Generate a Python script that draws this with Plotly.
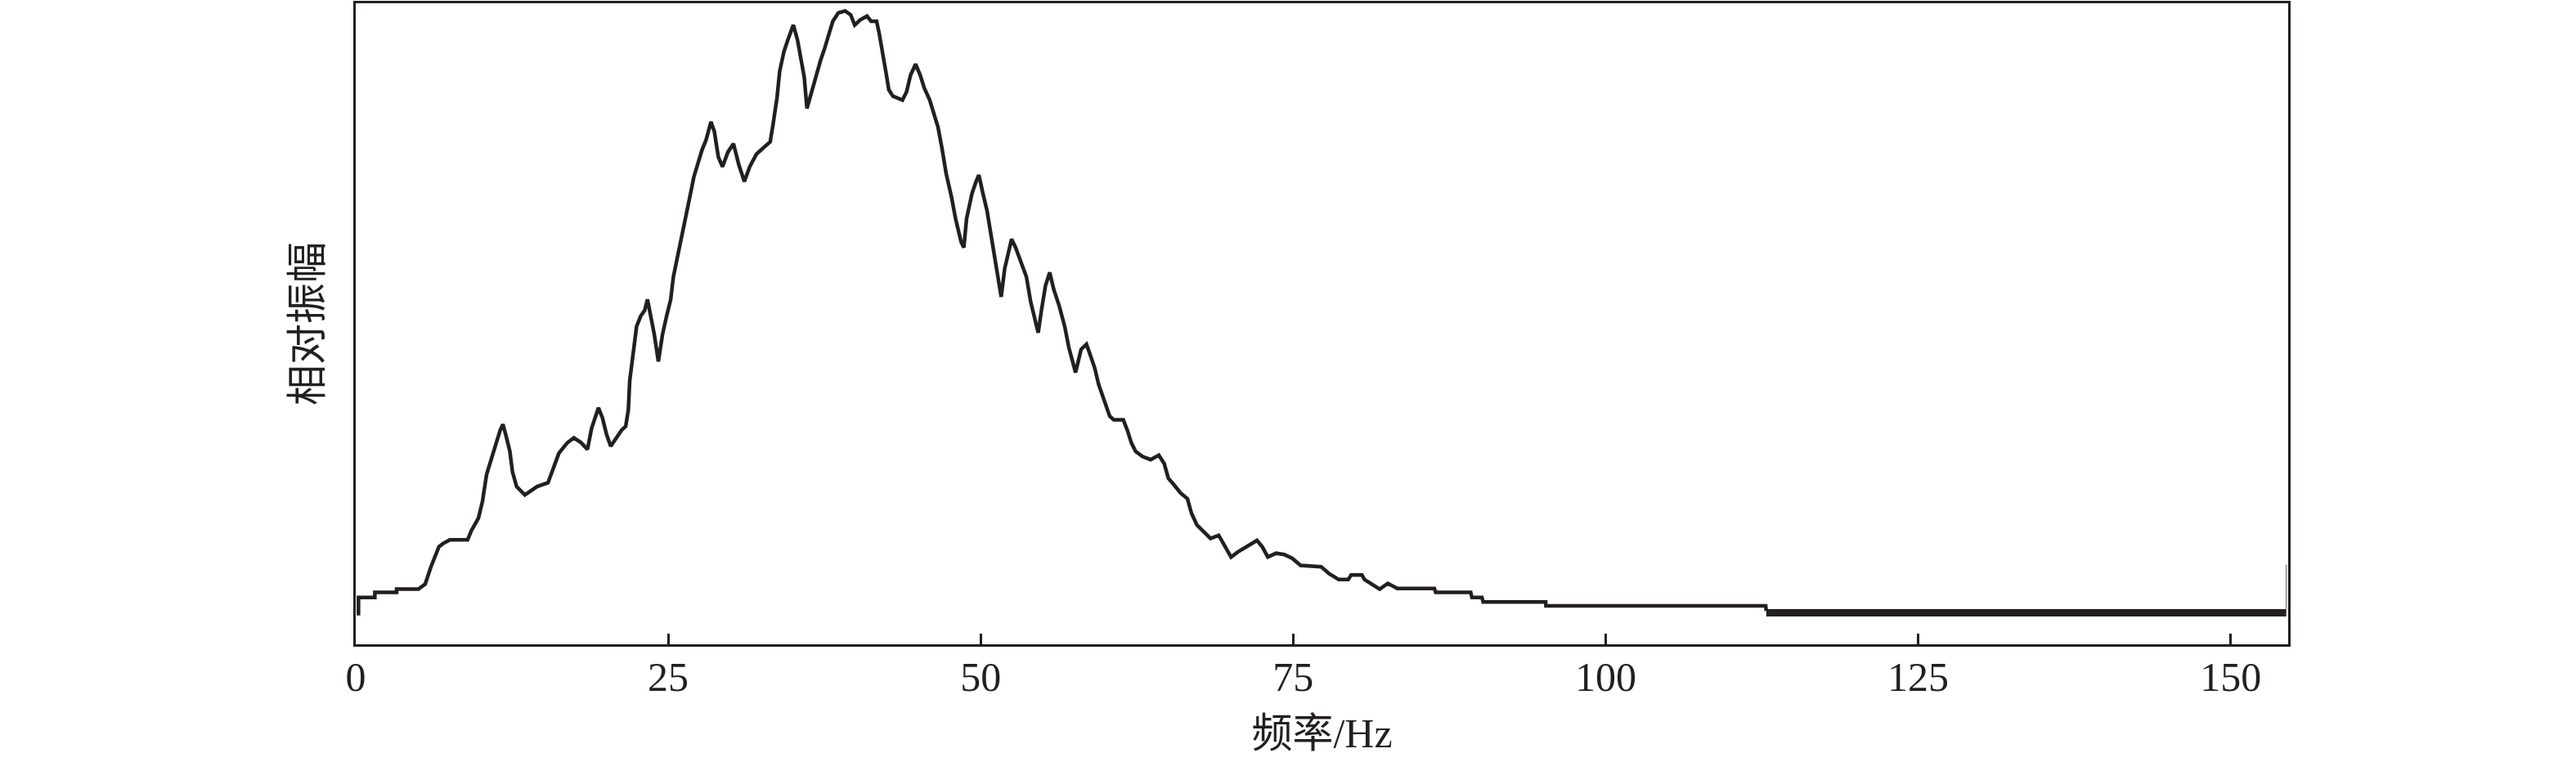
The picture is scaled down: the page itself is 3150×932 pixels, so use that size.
import plotly.graph_objects as go

# Frequency (Hz) and relative amplitude (0-100 of plot height)
freq_hz = [
    0.22, 0.22, 1.53, 1.53, 3.27, 3.27, 5.02, 5.56, 6.0, 6.65,
    6.98, 7.53, 8.95, 9.27, 9.82, 10.14, 10.47, 10.91, 11.24, 11.56,
    11.78, 12.0, 12.33, 12.54, 12.87, 13.53, 14.07, 14.51, 15.38, 15.82,
    16.25, 16.91, 17.45, 18.0, 18.54, 18.87, 19.42, 19.74, 20.07, 20.4,
    20.83, 21.27, 21.6, 21.81, 21.92, 22.25, 22.47, 22.8, 23.12, 23.34,
    23.56, 23.89, 24.21, 24.54, 24.87, 25.2, 25.41, 25.74, 26.07, 26.4,
    26.72, 27.05, 27.38, 27.7, 28.03, 28.42, 28.69, 29.01, 29.34, 29.78,
    30.22, 30.65, 31.09, 31.52, 32.07, 32.61, 33.16, 33.38, 33.7, 33.92,
    34.25, 34.57, 35.01, 35.34, 35.56, 35.88, 36.1, 36.43, 36.76, 37.19,
    37.52, 37.85, 38.17, 38.61, 39.16, 39.6, 39.92, 40.36, 40.9, 41.23,
    41.67, 41.88, 42.21, 42.43, 42.65, 42.98, 43.74, 44.07, 44.39, 44.79,
    45.16, 45.48, 45.92, 46.25, 46.58, 46.9, 47.23, 47.67, 47.99, 48.43,
    48.65, 48.87, 49.3, 49.63, 49.85, 50.18, 50.5, 50.83, 51.16, 51.37,
    51.64, 51.92, 52.25, 52.47, 52.79, 53.23, 53.66, 53.99, 54.32, 54.6,
    54.86, 55.19, 55.52, 55.84, 56.28, 56.72, 57.05, 57.38, 57.59, 58.03,
    58.46, 58.79, 59.12, 59.44, 59.88, 60.32, 60.65, 61.41, 61.73, 62.06,
    62.39, 62.94, 63.59, 64.25, 64.68, 65.01, 65.45, 65.99, 66.54, 66.87,
    67.3, 67.85, 68.39, 69.04, 69.48, 70.03, 70.57, 71.22, 72.1, 72.53,
    72.97, 73.63, 74.28, 74.93, 75.59, 77.23, 77.88, 78.64, 79.41, 79.63,
    80.5, 80.71, 81.26, 81.92, 82.57, 83.33, 86.3, 86.4, 89.2, 89.3,
    90.1, 90.2, 95.2, 95.22, 112.8, 112.85,
]
rel_amp = [
    4.5, 7.3, 7.3, 8.1, 8.1, 8.6, 8.6, 9.4, 12.0, 15.2,
    15.7, 16.3, 16.3, 17.8, 19.7, 22.3, 26.5, 29.1, 31.4, 33.4,
    34.3, 32.7, 30.1, 26.9, 24.6, 23.3, 24.0, 24.6, 25.2, 27.5,
    29.8, 31.4, 32.2, 31.5, 30.4, 33.7, 36.9, 35.3, 32.7, 30.9,
    32.1, 33.4, 34.0, 36.6, 41.1, 46.3, 49.6, 51.2, 52.1, 53.8,
    51.5, 48.3, 44.1, 48.3, 51.2, 53.8, 57.3, 60.6, 63.5, 67.1,
    69.7, 72.9, 75.2, 77.1, 78.7, 81.5, 80.0, 76.0, 74.5, 76.8,
    78.1, 74.8, 72.2, 74.5, 76.5, 77.4, 78.4, 81.0, 85.2, 89.4,
    92.4, 94.3, 96.6, 94.3, 91.7, 88.5, 83.6, 85.9, 88.5, 91.1,
    93.0, 95.3, 97.2, 98.5, 98.8, 98.2, 96.6, 97.4, 98.0, 97.2,
    97.2, 95.3, 92.0, 89.1, 86.5, 85.5, 84.9, 86.2, 88.8, 90.5,
    88.8, 86.8, 84.9, 82.6, 80.7, 77.4, 73.5, 69.7, 66.4, 62.8,
    61.9, 66.4, 70.3, 72.2, 73.2, 70.3, 67.7, 63.8, 59.9, 56.7,
    54.2, 58.6, 61.6, 63.2, 61.9, 59.6, 57.3, 53.5, 50.9, 48.6,
    52.1, 56.0, 58.0, 55.4, 52.8, 49.6, 46.3, 43.7, 42.4, 46.0,
    46.8, 45.0, 43.1, 40.5, 37.9, 35.6, 35.0, 35.0, 33.4, 31.4,
    30.1, 29.3, 28.8, 29.5, 28.2, 25.9, 24.9, 23.6, 22.7, 20.4,
    18.6, 17.5, 16.5, 17.0, 15.5, 13.6, 14.4, 15.1, 16.2, 15.2,
    13.6, 14.2, 14.0, 13.4, 12.3, 12.1, 11.0, 10.1, 10.1, 10.8,
    10.8, 10.1, 9.4, 8.6, 9.5, 8.7, 8.7, 8.1, 8.1, 7.3,
    7.3, 6.6, 6.6, 6.0, 6.0, 5.2,
]
# dense high-frequency tail (drawn as a thick band) and the final point
tail_freq = [112.85, 154.45]
tail_amp = [4.9, 4.9]
end_freq = [154.45, 154.45]
end_amp = [5.5, 12.4]

x_ticks = [0, 25, 50, 75, 100, 125, 150]

INK = "#231f20"
FONT = "Liberation Serif, Times New Roman, Noto Sans CJK SC, serif"

fig = go.Figure()
fig.add_trace(go.Scatter(x=freq_hz, y=rel_amp, mode="lines",
                         line=dict(color=INK, width=4.5), showlegend=False))
fig.add_trace(go.Scatter(x=tail_freq, y=tail_amp, mode="lines",
                         line=dict(color=INK, width=9), showlegend=False))
fig.add_trace(go.Scatter(x=end_freq, y=end_amp, mode="lines",
                         line=dict(color="#9a9a9a", width=2), showlegend=False))

fig.update_layout(
    width=3150, height=932,
    margin=dict(l=435, r=352, t=1, b=144),
    paper_bgcolor="white", plot_bgcolor="white",
    font=dict(family=FONT, size=50, color=INK),
    showlegend=False,
)
fig.update_xaxes(
    range=[0, 154.6], tickvals=x_ticks, ticktext=[str(v) for v in x_ticks],
    ticks="inside", ticklen=13, tickwidth=2.5, tickcolor=INK,
    ticklabelstandoff=-6,
    showline=True, linewidth=3, linecolor=INK, mirror=True,
    showgrid=False, zeroline=False,
    tickfont=dict(family=FONT, size=50, color=INK),
    title=dict(text="频率/Hz", font=dict(family=FONT, size=50, color=INK), standoff=24),
)
fig.update_yaxes(
    range=[0, 100], showticklabels=False, ticks="",
    showline=True, linewidth=3, linecolor=INK, mirror=True,
    showgrid=False, zeroline=False,
    title=dict(text="相对振幅", font=dict(family=FONT, size=50, color=INK), standoff=23),
)

fig.write_html("out.html", config={"displayModeBar": False},
               post_script="document.body.style.margin='0';")
